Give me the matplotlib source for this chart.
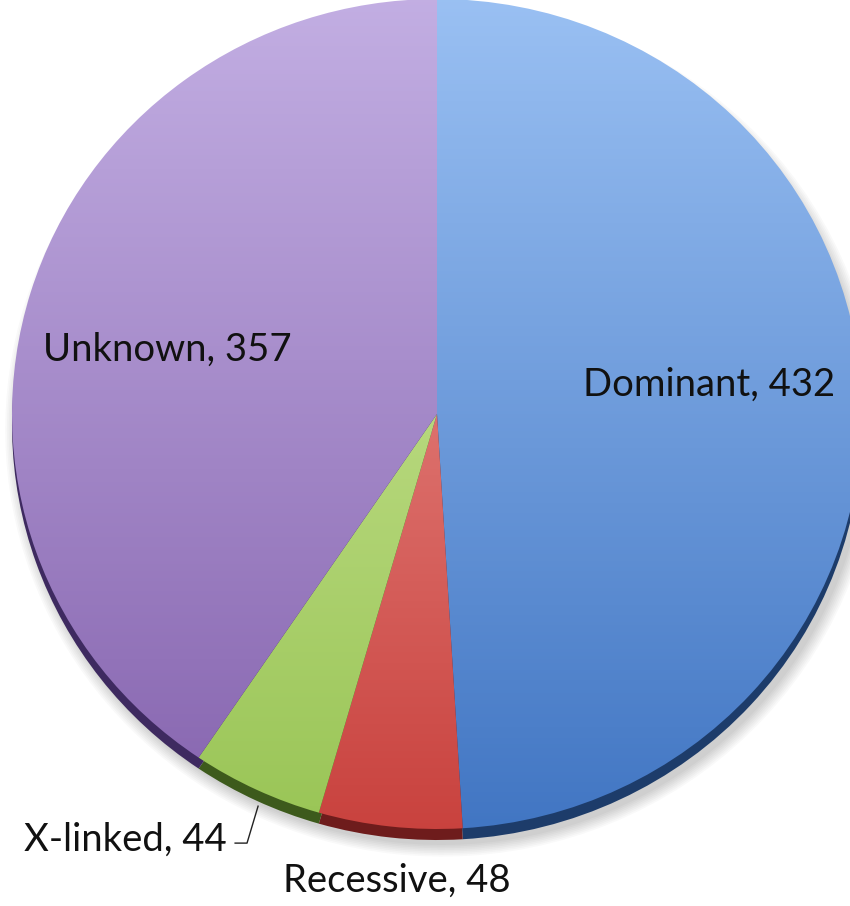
import numpy as np
import matplotlib.pyplot as plt
from matplotlib.colors import LinearSegmentedColormap

labels = ['Dominant', 'Recessive', 'X-linked', 'Unknown']
values = [432, 48, 44, 357]

# top / bottom colours of each slice gradient, and the darker side colour
top_cols = ['#9cc2f4', '#f2a29e', '#d6eca6', '#c4b0e4']
bot_cols = ['#3f74c2', '#c8403c', '#98c454', '#8462ad']
side_cols = ['#1d3c6a', '#6e1c1c', '#3d5a1c', '#3e2a60']

def main():
	fig = plt.figure(figsize=(8.5, 9.06), dpi=100)
	ax = fig.add_axes([0, 0, 1, 1])

	depth = 11 / 415.0

	# soft shadow
	for k in range(8):
		sh, _ = ax.pie(values, startangle=90, counterclock=False, radius=1.0 + 0.004 * k,
			center=(0.012, -depth - 0.012), colors=['#000000'] * 4,
			wedgeprops=dict(linewidth=0, alpha=0.025))

	# side of the pie (depth)
	side, _ = ax.pie(values, startangle=90, counterclock=False, center=(0, -depth),
		colors=side_cols, wedgeprops=dict(linewidth=0))

	# top surface with vertical gradient
	wedges, _ = ax.pie(values, startangle=90, counterclock=False,
		colors=['none'] * 4, wedgeprops=dict(linewidth=0))
	grad = np.linspace(0, 1, 256).reshape(-1, 1)
	for i, w in enumerate(wedges):
		cmap = LinearSegmentedColormap.from_list('g%d' % i, [top_cols[i], bot_cols[i]])
		im = ax.imshow(grad, cmap=cmap, extent=(-1.05, 1.05, -1.05, 1.05), origin='upper',
			aspect='auto', zorder=2)
		im.set_clip_path(w)

	fs = 27.5
	fam = ['Lato', 'DejaVu Sans']
	ax.text(0.64, 0.07, labels[0] + ', ' + str(values[0]), fontsize=fs, family=fam,
		ha='center', va='center', color='#111111', zorder=5)
	ax.text(-0.635, 0.155, labels[3] + ', ' + str(values[3]), fontsize=fs, family=fam,
		ha='center', va='center', color='#111111', zorder=5)
	ax.text(-0.094, -1.125, labels[1] + ', ' + str(values[1]), fontsize=fs, family=fam,
		ha='center', va='center', color='#111111', zorder=5)
	ax.text(-0.734, -1.025, labels[2] + ', ' + str(values[2]), fontsize=fs, family=fam,
		ha='center', va='center', color='#111111', zorder=5)
	# leader line for X-linked
	ax.plot([-0.475, -0.447, -0.421], [-1.034, -1.034, -0.945], color='#222222', lw=1, zorder=5)

	ax.set_aspect('auto')
	ax.set_xlim(-437 / 425.0, (850 - 437) / 425.0)
	ax.set_ylim(-(906 - 414) / 415.0, 414 / 415.0)
	ax.axis('off')
	fig.savefig('out.png', dpi=100)

if __name__ == "__main__":
	main()
